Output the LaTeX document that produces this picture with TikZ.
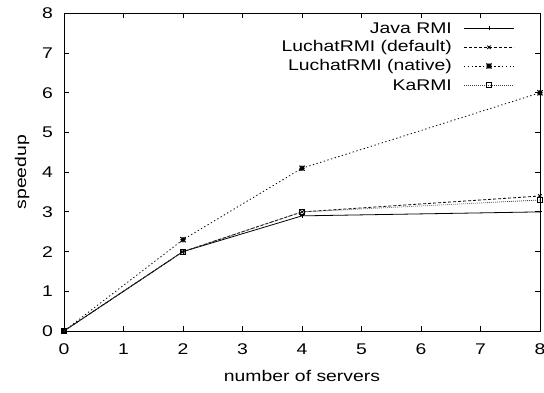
\documentclass[tikz,border=0pt]{standalone}
\usepackage{graphicx}
\usepackage{fontspec}
\setmainfont{Liberation Sans}
\usetikzlibrary{plotmarks}

% wide lettering, as set by the plotting program
\newcommand{\widetxt}[1]{\scalebox{1.25}[1]{#1}}

% gnuplot-style point type 3: plus and cross overlaid
\pgfdeclareplotmark{pxstar}{%
  \pgfpathmoveto{\pgfqpoint{-\pgfplotmarksize}{0pt}}%
  \pgfpathlineto{\pgfqpoint{\pgfplotmarksize}{0pt}}%
  \pgfpathmoveto{\pgfqpoint{0pt}{-\pgfplotmarksize}}%
  \pgfpathlineto{\pgfqpoint{0pt}{\pgfplotmarksize}}%
  \pgfpathmoveto{\pgfqpoint{-\pgfplotmarksize}{-\pgfplotmarksize}}%
  \pgfpathlineto{\pgfqpoint{\pgfplotmarksize}{\pgfplotmarksize}}%
  \pgfpathmoveto{\pgfqpoint{-\pgfplotmarksize}{\pgfplotmarksize}}%
  \pgfpathlineto{\pgfqpoint{\pgfplotmarksize}{-\pgfplotmarksize}}%
  \pgfusepathqstroke}

\tikzset{
  frame/.style={line width=0.8pt, black},
  lbl/.style={inner sep=0pt, font=\fontsize{15.5}{18}\selectfont},
  javaline/.style={line width=0.8pt, black, mark=+, mark size=2.2pt,
    mark options={solid}},
  defline/.style={line width=0.8pt, black, dash pattern=on 3pt off 2pt,
    mark=x, mark size=2.4pt, mark options={solid}},
  natline/.style={line width=0.8pt, black, dash pattern=on 1.3pt off 2.5pt,
    mark=pxstar, mark size=2.6pt, mark options={solid, line width=1.1pt}},
  karline/.style={line width=0.8pt, black!75, dash pattern=on 0.8pt off 1.2pt,
    mark=square, mark size=2.6pt, mark options={solid, black, line width=0.8pt}},
  keymark/.style={mark indices={2}},
}

\begin{document}
\begin{tikzpicture}[x=1pt, y=1pt]
\useasboundingbox (0,0) rectangle (544,393);

\begin{scope}[shift={(64pt,62pt)}, x=59.5pt, y=39.7pt]
  % axes box
  \draw[frame] (0,0) rectangle (8,8);
  % ticks on all four sides, with labels
  \foreach \i in {0,...,8} {
    \draw[frame] (\i,0) -- ++(0,5pt);
    \draw[frame] (\i,8) -- ++(0,-5pt);
    \draw[frame] (0,\i) -- ++(5pt,0);
    \draw[frame] (8,\i) -- ++(-5pt,0);
    \node[lbl] (xt\i) at ([yshift=-18pt]\i,0) {\widetxt{\i}};
    \node[lbl, anchor=east] (yt\i) at ([xshift=-11pt]0,\i) {\widetxt{\i}};
  }
  % axis titles
  \node[lbl] (xlab) at ([yshift=-45pt]4,0) {\widetxt{number of servers}};
  \node[lbl, rotate=90] (ylab) at ([xshift=-42pt]0,4) {\widetxt{speedup}};

  % measured speedups
  \draw[javaline] plot coordinates {(0,0) (2,2) (4,2.9) (8,3)};
  \draw[defline]  plot coordinates {(0,0) (2,2) (4,3) (8,3.4)};
  \draw[natline]  plot coordinates {(0,0) (2,2.3) (4,4.1) (8,6)};
  \draw[karline]  plot coordinates {(0,0) (2,2) (4,3) (8,3.3)};
\end{scope}

% key
\node[lbl, anchor=east] (kJ) at (452,364.7) {\widetxt{Java RMI}};
\node[lbl, anchor=east] (kD) at (452,345.7) {\widetxt{LuchatRMI (default)}};
\node[lbl, anchor=east] (kN) at (452,327) {\widetxt{LuchatRMI (native)}};
\node[lbl, anchor=east] (kK) at (452,308) {\widetxt{KaRMI}};

\draw[javaline, keymark] plot coordinates {(464,364.7) (489,364.7) (514,364.7)};
\draw[defline, keymark]  plot coordinates {(464,345.7) (489,345.7) (514,345.7)};
\draw[natline, keymark]  plot coordinates {(464,327) (489,327) (514,327)};
\draw[karline, keymark]  plot coordinates {(464,308) (489,308) (514,308)};
\end{tikzpicture}
\end{document}
